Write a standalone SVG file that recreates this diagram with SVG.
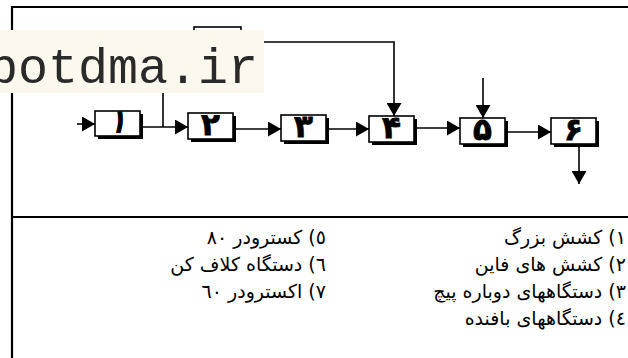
<svg xmlns="http://www.w3.org/2000/svg" width="628" height="358" viewBox="0 0 628 358">
<style>
.frame{stroke:#000;stroke-width:2.2;fill:none}
.ln{stroke:#000;stroke-width:1.6;fill:none}
.sh{fill:#000}
.bx{fill:#fff;stroke:#000;stroke-width:1.6}
.num{font-family:"DejaVu Sans",sans-serif;font-weight:bold;font-size:31px;text-anchor:middle;fill:#000;stroke:#000;stroke-width:0.8}
.lg{font-family:"DejaVu Sans",sans-serif;font-size:19px;fill:#000}
.wm{font-family:"Liberation Mono",monospace;font-size:50px;fill:#2a2a2a}
</style>
<defs>
<marker id="ah" markerUnits="userSpaceOnUse" markerWidth="14" markerHeight="15" refX="13" refY="7.5" orient="auto">
<path d="M0,0 L13,7.5 L0,15 Z" fill="#000"/>
</marker>
</defs>
<rect width="628" height="358" fill="#fff"/>
<g id="frame">
<path class="frame" d="M12,358 V7 H628"/>
<path class="frame" d="M12,217 H628"/>
</g>
<g id="node7">
<rect class="sh" x="197" y="30" width="47" height="26"/>
<rect class="bx" x="194" y="27" width="47" height="26"/>
</g>
<g id="connectors">
<path class="ln" d="M77,124 H95" marker-end="url(#ah)"/>
<path class="ln" d="M143,127 H188" marker-end="url(#ah)"/>
<path class="ln" d="M163,60 V127"/>
<path class="ln" d="M241,42 H394 V116" marker-end="url(#ah)"/>
<path class="ln" d="M236,129 H281" marker-end="url(#ah)"/>
<path class="ln" d="M329,129 H369" marker-end="url(#ah)"/>
<path class="ln" d="M417,128 H460" marker-end="url(#ah)"/>
<path class="ln" d="M483,78 V118" marker-end="url(#ah)"/>
<path class="ln" d="M508,132 H551" marker-end="url(#ah)"/>
<path class="ln" d="M579,147 V184" marker-end="url(#ah)"/>
</g>
<g id="node1">
<rect class="sh" x="98" y="114" width="45" height="25"/>
<rect class="bx" x="95" y="111" width="45" height="25"/>
<text class="num" x="117.5" y="132" font-style="italic">۱</text>
</g>
<g id="node2">
<rect class="sh" x="191" y="116" width="45" height="26"/>
<rect class="bx" x="188" y="113" width="45" height="26"/>
<text class="num" x="210.5" y="134.5">۲</text>
</g>
<g id="node3">
<rect class="sh" x="284" y="118" width="45" height="26"/>
<rect class="bx" x="281" y="115" width="45" height="26"/>
<text class="num" x="303.5" y="136.5">۳</text>
</g>
<g id="node4">
<rect class="sh" x="372" y="119" width="45" height="26"/>
<rect class="bx" x="369" y="116" width="45" height="26"/>
<text class="num" x="391.5" y="137.5">۴</text>
</g>
<g id="node5">
<rect class="sh" x="463" y="121" width="45" height="26"/>
<rect class="bx" x="460" y="118" width="45" height="26"/>
<text class="num" x="482.5" y="139.5">۵</text>
</g>
<g id="node6">
<rect class="sh" x="554" y="121" width="45" height="26"/>
<rect class="bx" x="551" y="118" width="45" height="26"/>
<text class="num" x="573.5" y="139.5">۶</text>
</g>
<g id="watermark">
<rect x="0" y="30" width="264" height="63" fill="#fcf8ee"/>
<text class="wm" x="-12" y="83">botdma.ir</text>
</g>
<g id="legend">
<text class="lg" x="626" y="244" direction="rtl" text-anchor="start">۱) کشش بزرگ</text>
<text class="lg" x="626" y="271" direction="rtl" text-anchor="start">۲) کشش های فاین</text>
<text class="lg" x="626" y="298" direction="rtl" text-anchor="start">۳) دستگاههای دوباره پیچ</text>
<text class="lg" x="626" y="325" direction="rtl" text-anchor="start">٤) دستگاههای بافنده</text>
<text class="lg" x="326" y="244" direction="rtl" text-anchor="start">٥) کسترودر ٨٠</text>
<text class="lg" x="326" y="271" direction="rtl" text-anchor="start">٦) دستگاه کلاف کن</text>
<text class="lg" x="326" y="298" direction="rtl" text-anchor="start">٧) اکسترودر ٦٠</text>
</g>
</svg>
